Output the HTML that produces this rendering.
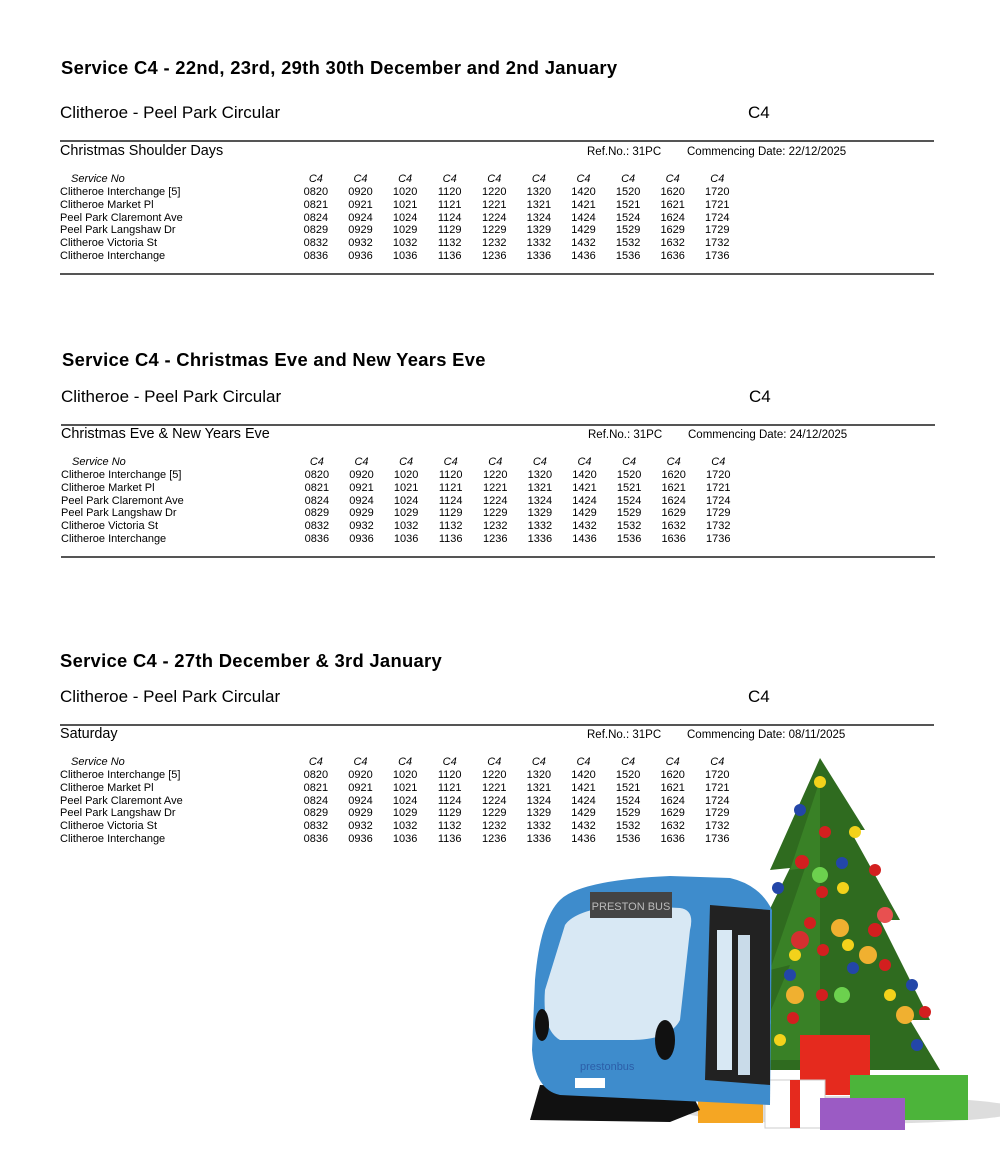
<!DOCTYPE html>
<html><head><meta charset="utf-8"><style>
body{margin:0;background:#fff;width:1000px;height:1168px;position:relative;overflow:hidden;font-family:"Liberation Sans",Arial,sans-serif;color:#000}
.a{position:absolute;white-space:nowrap}
.t{font-weight:bold;font-size:18.4px;letter-spacing:0.3px;font-family:"Liberation Sans",sans-serif;}
.c{font-size:17px}
.h{font-size:14.4px}
.r{font-size:11.5px}
.rule{position:absolute;height:1.5px;background:#555;width:874px}
.tb{position:absolute;font-size:11px;line-height:12.85px;width:700px}
.row{position:relative;height:12.85px;white-space:nowrap}
.row span{position:absolute;width:44.6px;text-align:center;top:0}
.row b{position:absolute;left:0;top:0;font-weight:normal;white-space:nowrap}
.it{font-style:italic}
.row span:nth-of-type(1){left:233.6px}.row span:nth-of-type(2){left:278.2px}.row span:nth-of-type(3){left:322.8px}.row span:nth-of-type(4){left:367.4px}.row span:nth-of-type(5){left:412px}
.row span:nth-of-type(6){left:456.6px}.row span:nth-of-type(7){left:501.2px}.row span:nth-of-type(8){left:545.8px}.row span:nth-of-type(9){left:590.4px}.row span:nth-of-type(10){left:635px}
</style></head><body>

<div class="a t" style="left:61px;top:57px">Service C4 - 22nd, 23rd, 29th 30th December and 2nd January</div>
<div class="a c" style="left:60px;top:103px">Clitheroe - Peel Park Circular</div>
<div class="a c" style="left:748px;top:103px">C4</div>
<div class="rule" style="left:60px;top:140px"></div>
<div class="a h" style="left:60px;top:143px">Christmas Shoulder Days</div>
<div class="a r" style="left:587px;top:146px">Ref.No.: 31PC</div>
<div class="a r" style="left:687px;top:146px">Commencing Date: 22/12/2025</div>
<div class="tb" style="left:60px;top:173px">
<div class="row it"><b style="padding-left:11px">Service No</b><span>C4</span><span>C4</span><span>C4</span><span>C4</span><span>C4</span><span>C4</span><span>C4</span><span>C4</span><span>C4</span><span>C4</span></div>
<div class="row"><b>Clitheroe Interchange [5]</b><span>0820</span><span>0920</span><span>1020</span><span>1120</span><span>1220</span><span>1320</span><span>1420</span><span>1520</span><span>1620</span><span>1720</span></div>
<div class="row"><b>Clitheroe Market Pl</b><span>0821</span><span>0921</span><span>1021</span><span>1121</span><span>1221</span><span>1321</span><span>1421</span><span>1521</span><span>1621</span><span>1721</span></div>
<div class="row"><b>Peel Park Claremont Ave</b><span>0824</span><span>0924</span><span>1024</span><span>1124</span><span>1224</span><span>1324</span><span>1424</span><span>1524</span><span>1624</span><span>1724</span></div>
<div class="row"><b>Peel Park Langshaw Dr</b><span>0829</span><span>0929</span><span>1029</span><span>1129</span><span>1229</span><span>1329</span><span>1429</span><span>1529</span><span>1629</span><span>1729</span></div>
<div class="row"><b>Clitheroe Victoria St</b><span>0832</span><span>0932</span><span>1032</span><span>1132</span><span>1232</span><span>1332</span><span>1432</span><span>1532</span><span>1632</span><span>1732</span></div>
<div class="row"><b>Clitheroe Interchange</b><span>0836</span><span>0936</span><span>1036</span><span>1136</span><span>1236</span><span>1336</span><span>1436</span><span>1536</span><span>1636</span><span>1736</span></div>
</div>
<div class="rule" style="left:60px;top:273px"></div>

<div class="a t" style="left:62px;top:349px">Service C4 - Christmas Eve and New Years Eve</div>
<div class="a c" style="left:61px;top:387px">Clitheroe - Peel Park Circular</div>
<div class="a c" style="left:749px;top:387px">C4</div>
<div class="rule" style="left:61px;top:424px"></div>
<div class="a h" style="left:61px;top:426px">Christmas Eve &amp; New Years Eve</div>
<div class="a r" style="left:588px;top:429px">Ref.No.: 31PC</div>
<div class="a r" style="left:688px;top:429px">Commencing Date: 24/12/2025</div>
<div class="tb" style="left:61px;top:456px">
<div class="row it"><b style="padding-left:11px">Service No</b><span>C4</span><span>C4</span><span>C4</span><span>C4</span><span>C4</span><span>C4</span><span>C4</span><span>C4</span><span>C4</span><span>C4</span></div>
<div class="row"><b>Clitheroe Interchange [5]</b><span>0820</span><span>0920</span><span>1020</span><span>1120</span><span>1220</span><span>1320</span><span>1420</span><span>1520</span><span>1620</span><span>1720</span></div>
<div class="row"><b>Clitheroe Market Pl</b><span>0821</span><span>0921</span><span>1021</span><span>1121</span><span>1221</span><span>1321</span><span>1421</span><span>1521</span><span>1621</span><span>1721</span></div>
<div class="row"><b>Peel Park Claremont Ave</b><span>0824</span><span>0924</span><span>1024</span><span>1124</span><span>1224</span><span>1324</span><span>1424</span><span>1524</span><span>1624</span><span>1724</span></div>
<div class="row"><b>Peel Park Langshaw Dr</b><span>0829</span><span>0929</span><span>1029</span><span>1129</span><span>1229</span><span>1329</span><span>1429</span><span>1529</span><span>1629</span><span>1729</span></div>
<div class="row"><b>Clitheroe Victoria St</b><span>0832</span><span>0932</span><span>1032</span><span>1132</span><span>1232</span><span>1332</span><span>1432</span><span>1532</span><span>1632</span><span>1732</span></div>
<div class="row"><b>Clitheroe Interchange</b><span>0836</span><span>0936</span><span>1036</span><span>1136</span><span>1236</span><span>1336</span><span>1436</span><span>1536</span><span>1636</span><span>1736</span></div>
</div>
<div class="rule" style="left:61px;top:556px"></div>

<div class="a t" style="left:60px;top:650px">Service C4 - 27th December &amp; 3rd January</div>
<div class="a c" style="left:60px;top:687px">Clitheroe - Peel Park Circular</div>
<div class="a c" style="left:748px;top:687px">C4</div>
<div class="rule" style="left:60px;top:724px"></div>
<div class="a h" style="left:60px;top:726px">Saturday</div>
<div class="a r" style="left:587px;top:729px">Ref.No.: 31PC</div>
<div class="a r" style="left:687px;top:729px">Commencing Date: 08/11/2025</div>
<div class="tb" style="left:60px;top:756px">
<div class="row it"><b style="padding-left:11px">Service No</b><span>C4</span><span>C4</span><span>C4</span><span>C4</span><span>C4</span><span>C4</span><span>C4</span><span>C4</span><span>C4</span><span>C4</span></div>
<div class="row"><b>Clitheroe Interchange [5]</b><span>0820</span><span>0920</span><span>1020</span><span>1120</span><span>1220</span><span>1320</span><span>1420</span><span>1520</span><span>1620</span><span>1720</span></div>
<div class="row"><b>Clitheroe Market Pl</b><span>0821</span><span>0921</span><span>1021</span><span>1121</span><span>1221</span><span>1321</span><span>1421</span><span>1521</span><span>1621</span><span>1721</span></div>
<div class="row"><b>Peel Park Claremont Ave</b><span>0824</span><span>0924</span><span>1024</span><span>1124</span><span>1224</span><span>1324</span><span>1424</span><span>1524</span><span>1624</span><span>1724</span></div>
<div class="row"><b>Peel Park Langshaw Dr</b><span>0829</span><span>0929</span><span>1029</span><span>1129</span><span>1229</span><span>1329</span><span>1429</span><span>1529</span><span>1629</span><span>1729</span></div>
<div class="row"><b>Clitheroe Victoria St</b><span>0832</span><span>0932</span><span>1032</span><span>1132</span><span>1232</span><span>1332</span><span>1432</span><span>1532</span><span>1632</span><span>1732</span></div>
<div class="row"><b>Clitheroe Interchange</b><span>0836</span><span>0936</span><span>1036</span><span>1136</span><span>1236</span><span>1336</span><span>1436</span><span>1536</span><span>1636</span><span>1736</span></div>
</div>

<svg class="a" style="left:520px;top:750px" width="480" height="400" viewBox="0 0 480 400">
  <ellipse cx="330" cy="360" rx="170" ry="14" fill="#ddd"/>
  <polygon points="300,8 250,120 270,118 220,220 245,215 195,320 420,320 390,270 410,270 360,170 380,170 330,80 345,80" fill="#2f6b1f"/>
  <polygon points="300,30 270,120 285,118 250,220 270,215 230,310 300,310" fill="#3d8a2a" opacity="0.7"/>
  <g>
    <circle cx="300" cy="32" r="6" fill="#f3d21b"/><circle cx="280" cy="60" r="6" fill="#2346a8"/>
    <circle cx="305" cy="82" r="6" fill="#d31f1f"/><circle cx="335" cy="82" r="6" fill="#f3d21b"/>
    <circle cx="282" cy="112" r="7" fill="#d31f1f"/><circle cx="322" cy="113" r="6" fill="#2346a8"/>
    <circle cx="355" cy="120" r="6" fill="#d31f1f"/><circle cx="300" cy="125" r="8" fill="#6cd14e"/>
    <circle cx="258" cy="138" r="6" fill="#2346a8"/><circle cx="323" cy="138" r="6" fill="#f3d21b"/>
    <circle cx="302" cy="142" r="6" fill="#d31f1f"/><circle cx="290" cy="173" r="6" fill="#d31f1f"/>
    <circle cx="320" cy="178" r="9" fill="#f0b030"/><circle cx="355" cy="180" r="7" fill="#d31f1f"/>
    <circle cx="365" cy="165" r="8" fill="#e85050"/><circle cx="280" cy="190" r="9" fill="#d33030"/>
    <circle cx="328" cy="195" r="6" fill="#f3d21b"/><circle cx="275" cy="205" r="6" fill="#f3d21b"/>
    <circle cx="303" cy="200" r="6" fill="#d31f1f"/><circle cx="348" cy="205" r="9" fill="#f0b030"/>
    <circle cx="365" cy="215" r="6" fill="#d31f1f"/><circle cx="333" cy="218" r="6" fill="#2346a8"/>
    <circle cx="270" cy="225" r="6" fill="#2346a8"/><circle cx="235" cy="230" r="6" fill="#d31f1f"/>
    <circle cx="275" cy="245" r="9" fill="#f0b030"/><circle cx="302" cy="245" r="6" fill="#d31f1f"/>
    <circle cx="322" cy="245" r="8" fill="#6cd14e"/><circle cx="392" cy="235" r="6" fill="#2346a8"/>
    <circle cx="370" cy="245" r="6" fill="#f3d21b"/><circle cx="243" cy="272" r="8" fill="#6cd14e"/>
    <circle cx="273" cy="268" r="6" fill="#d31f1f"/><circle cx="385" cy="265" r="9" fill="#f0b030"/>
    <circle cx="405" cy="262" r="6" fill="#d31f1f"/><circle cx="238" cy="298" r="6" fill="#d31f1f"/>
    <circle cx="260" cy="290" r="6" fill="#f3d21b"/><circle cx="397" cy="295" r="6" fill="#2346a8"/>
  </g>
  <rect x="280" y="285" width="70" height="60" fill="#e52a1e"/>
  <rect x="330" y="325" width="118" height="45" fill="#4cb43a"/>
  <rect x="245" y="330" width="60" height="48" fill="#fff" stroke="#ccc"/>
  <rect x="270" y="330" width="10" height="48" fill="#e52a1e"/>
  <rect x="300" y="348" width="85" height="32" fill="#9b5bc4"/>
  <rect x="178" y="345" width="65" height="28" fill="#f5a623"/>
  <rect x="190" y="320" width="42" height="30" fill="#fff" stroke="#ccc"/>
  <rect x="207" y="320" width="6" height="30" fill="#e52a1e"/>
  <path d="M20,335 L10,370 L150,372 L180,360 L170,340 Z" fill="#111"/>
  <path d="M40,150 Q60,130 150,126 L210,128 Q240,135 252,160 L250,355 L40,345 Q15,340 12,300 L15,230 Q20,170 40,150 Z" fill="#3e8ccc"/>
  <path d="M45,175 Q55,160 100,155 L160,158 Q175,160 170,180 L160,270 Q150,290 110,290 L40,290 Q22,280 25,240 Z" fill="#d8e8f4"/>
  <path d="M190,155 L250,160 L250,335 L185,330 Z" fill="#222"/>
  <rect x="197" y="180" width="15" height="140" fill="#d8e8f4"/>
  <rect x="218" y="185" width="12" height="140" fill="#c9dbe9"/>
  <rect x="70" y="142" width="82" height="26" fill="#444"/>
  <text x="111" y="160" font-family="Liberation Sans, sans-serif" font-size="11" fill="#bbb" text-anchor="middle">PRESTON BUS</text>
  <ellipse cx="145" cy="290" rx="10" ry="20" fill="#111"/>
  <ellipse cx="22" cy="275" rx="7" ry="16" fill="#111"/>
  <text x="60" y="320" font-family="Liberation Sans, sans-serif" font-size="11" fill="#2c5ea8">prestonbus</text>
  <rect x="55" y="328" width="30" height="10" fill="#fff"/>
</svg>
</body></html>
